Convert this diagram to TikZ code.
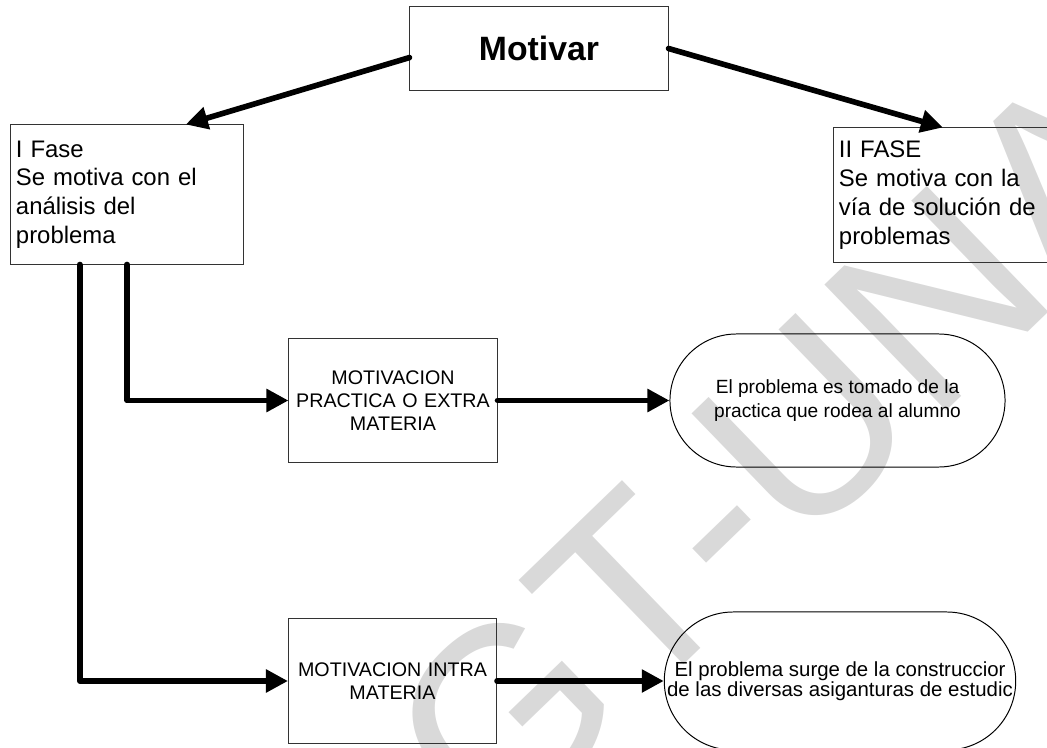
\documentclass[tikz,border=0pt]{standalone}
\usepackage{fontspec}
\setmainfont{Liberation Sans}
\usetikzlibrary{arrows.meta,shapes.misc}

\begin{document}
\begin{tikzpicture}[
				x=0.025cm, y=-0.025cm,
				caja/.style={draw=black!80, line width=0.7pt, align=center, inner sep=0pt},
				fase/.style={caja, align=left, text width=5.55cm, minimum width=5.8cm, font=\fontsize{17}{20.5}\selectfont},
				motiv/.style={caja, text width=5cm, minimum width=5.2cm, minimum height=3.1cm, font=\fontsize{14}{16.5}\selectfont},
				resul/.style={draw, rounded rectangle, line width=0.7pt, align=center, inner sep=0pt},
				flecha/.style={line width=4pt, line cap=round, line join=round, -{Triangle[length=0.55cm,width=0.55cm]}},
			]

			\useasboundingbox (0,0) rectangle (1047,748);
			\clip (0,0) rectangle (1047,748);

			\node[text=black!15, rotate=44, font=\fontsize{181}{181}\selectfont] (marca) at (779,451) {GT-UNA};

			\node[caja, minimum width=6.45cm, minimum height=2.075cm, font=\fontsize{24}{28}\selectfont\bfseries] (motivar) at (539,48.5) {Motivar};
			\node[fase, minimum height=3.475cm] (fase1) at (127,194.5) {I Fase\\Se motiva con el\\análisis del\\problema};
			\node[fase, minimum height=3.35cm] (fase2) at (950,195) {II FASE\\Se motiva con la\\vía de solución de\\problemas};

			\node[motiv] (practica) at (393,400.5) {MOTIVACION\\PRACTICA O EXTRA\\MATERIA};
			\node[motiv] (intra) at (392.5,681) {MOTIVACION INTRA\\MATERIA};

			\node[resul, minimum width=8.375cm, minimum height=3.325cm, font=\fontsize{13.6}{17}\selectfont] (res1) at (837.5,400.5) {El problema es tomado de la\\practica que rodea al alumno};
			\node[resul, minimum width=8.75cm, minimum height=3.45cm, font=\fontsize{14.5}{13}\selectfont] (res2) at (840,681) {El problema surge de la construccior\\de las diversas asiganturas de estudic};

			\draw[flecha] (motivar.184) -- (fase1.50);
			\draw[flecha] (motivar.east) -- (fase2.96);
			\draw[flecha] (fase1.south) |- (practica.west);
			\draw[flecha] (fase1.236) |- (intra.west);
			\draw[flecha] (practica.east) -- (res1.west);
			\draw[flecha] (intra.east) -- (res2.west);

		\end{tikzpicture}
\end{document}
